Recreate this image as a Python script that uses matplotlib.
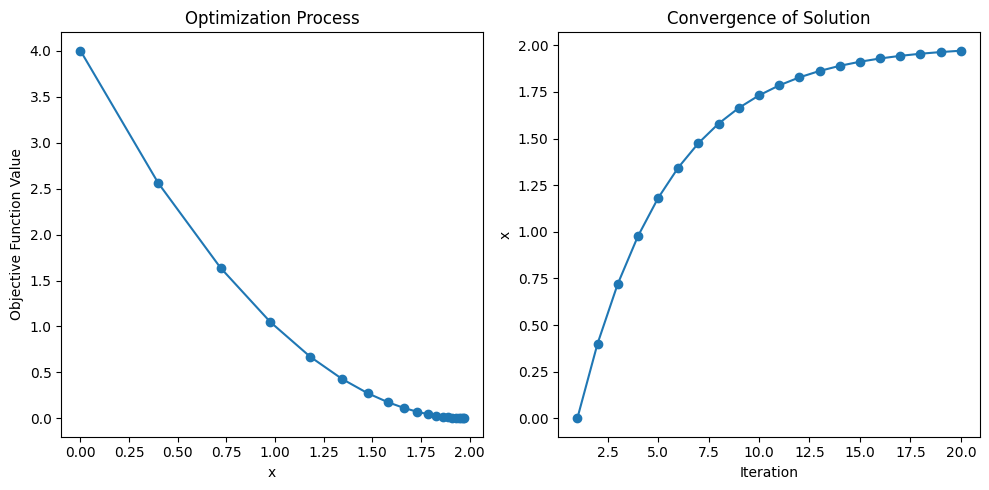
import matplotlib
matplotlib.use('Agg')
import matplotlib.pyplot as plt

# values
iterations = [1, 2, 3, 4, 5, 6, 7, 8, 9, 10,
              11, 12, 13, 14, 15, 16, 17, 18, 19, 20]
x_values = [0.0, 0.4, 0.72, 0.976, 1.1808, 1.3446, 1.4757, 1.5806, 1.6645, 1.7316,
            1.7853, 1.8282, 1.8626, 1.8901, 1.9121, 1.9296, 1.9437, 1.9550, 1.9640, 1.9712]
objective = [4.0, 2.56, 1.6384, 1.0486, 0.6711, 0.4295, 0.2749, 0.1759, 0.1126, 0.0721,
             0.0461, 0.0295, 0.0189, 0.0121, 0.0077, 0.0050, 0.0032, 0.0020, 0.0013, 0.0008]

fig = plt.figure(figsize=(10, 5), dpi=100)

ax1 = fig.add_subplot(121)
ax1.plot(x_values, objective, marker='o')
ax1.set_xlabel('x')
ax1.set_ylabel('Objective Function Value')
ax1.set_title('Optimization Process')

ax2 = fig.add_subplot(122)
ax2.plot(iterations, x_values, marker='o')
ax2.set_xlabel('Iteration')
ax2.set_ylabel('x')
ax2.set_title('Convergence of Solution')

plt.tight_layout()
fig.savefig('out.png', dpi=100, bbox_inches='tight')
